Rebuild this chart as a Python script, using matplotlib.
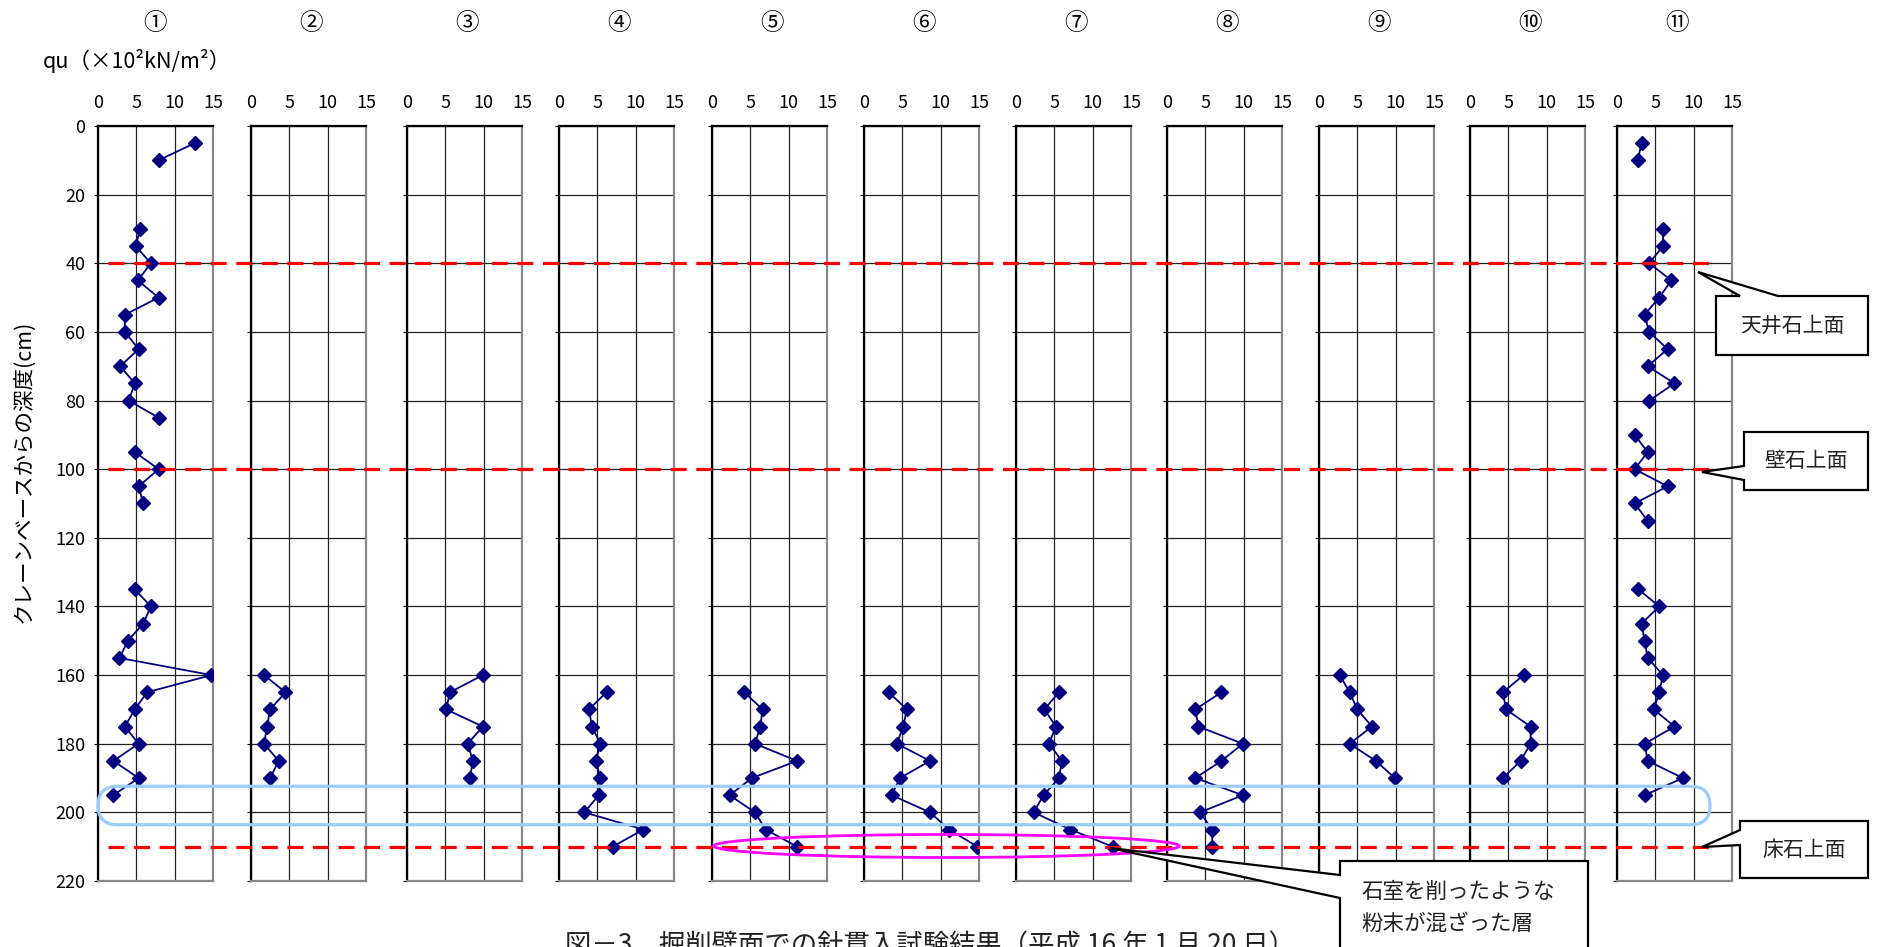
import numpy as np
import matplotlib.pyplot as plt
from matplotlib import transforms
from matplotlib.patches import FancyBboxPatch, Ellipse, Polygon
from matplotlib.lines import Line2D

plt.rcParams['font.family'] = ['Noto Sans CJK JP', 'DejaVu Sans']

nan = np.nan

# 測点ラベル
panel_labels = ['①', '②', '③', '④', '⑤', '⑥', '⑦', '⑧', '⑨', '⑩', '⑪']

# 深度 (cm)
depth_long = [5, 10, 15, 20, 25, 30, 35, 40, 45, 50, 55, 60, 65, 70, 75, 80, 85, 90, 95, 100,
              105, 110, 115, 120, 125, 130, 135, 140, 145, 150, 155, 160, 165, 170, 175, 180,
              185, 190, 195]
depth_short = [160, 165, 170, 175, 180, 185, 190]
depth_floor = [165, 170, 175, 180, 185, 190, 195, 200, 205, 210]

# qu (x10^2 kN/m^2)
qu_1 = [12.6, 7.9, nan, nan, nan, 5.5, 4.9, 6.9, 5.2, 7.9, 3.5, 3.5, 5.3, 2.9, 4.8, 4.0, 7.9, nan,
        4.8, 7.9, 5.3, 5.9, nan, nan, nan, nan, 4.8, 6.9, 5.9, 3.9, 2.8, 14.8, 6.4, 4.8, 3.5,
        5.3, 2.0, 5.3, 2.0]
qu_2 = [1.7, 4.5, 2.5, 2.1, 1.7, 3.6, 2.5]
qu_3 = [9.9, 5.6, 5.1, 9.9, 7.9, 8.6, 8.2]
qu_4 = [6.2, 3.9, 4.3, 5.4, 4.8, 5.4, 5.2, 3.3, 11.0, 7.0]
qu_5 = [4.2, 6.6, 6.3, 5.6, 11.1, 5.2, 2.3, 5.6, 7.0, 11.1]
qu_6 = [3.2, 5.6, 5.1, 4.3, 8.6, 4.7, 3.6, 8.6, 11.1, 14.8]
qu_7 = [5.6, 3.7, 5.2, 4.3, 6.0, 5.6, 3.6, 2.3, 7.1, 12.6]
qu_8 = [7.1, 3.7, 4.1, 9.9, 7.1, 3.7, 9.9, 4.3, 5.9, 5.9]
qu_9 = [2.7, 4.0, 5.0, 6.9, 4.0, 7.4, 9.9]
qu_10 = [7.0, 4.3, 4.7, 7.9, 7.9, 6.6, 4.3]
qu_11 = [3.2, 2.7, nan, nan, nan, 6.0, 6.0, 4.2, 7.1, 5.5, 3.6, 4.2, 6.6, 4.0, 7.5, 4.2, nan, 2.3,
         4.0, 2.3, 6.6, 2.3, 4.0, nan, nan, nan, 2.8, 5.5, 3.2, 3.6, 4.0, 6.0, 5.5, 4.8, 7.5,
         3.6, 4.0, 8.6, 3.6]

series = [(qu_1, depth_long), (qu_2, depth_short), (qu_3, depth_short), (qu_4, depth_floor),
          (qu_5, depth_floor), (qu_6, depth_floor), (qu_7, depth_floor), (qu_8, depth_floor),
          (qu_9, depth_short), (qu_10, depth_short), (qu_11, depth_long)]

# 基準面 (cm)
levels = [40, 100, 210]
level_names = ['天井石上面', '壁石上面', '床石上面']

# レイアウト (ピクセル)
W, H = 1881, 947
panel_left = [98, 251, 407, 559, 712, 864, 1016, 1167, 1319, 1470, 1617]
PW, TOP, PH = 115, 126, 755

fig = plt.figure(figsize=(W / 100, H / 100), dpi=100)
pix = transforms.Affine2D().scale(1 / W, -1 / H).translate(0, 1) + fig.transFigure

axes = []
for i, (qu, depth) in enumerate(series):
    left = panel_left[i]
    ax = fig.add_axes([left / W, 1 - (TOP + PH) / H, PW / W, PH / H])
    ax.plot(qu, depth, color='#000080', lw=1.3, marker='D', ms=7,
            mfc='#000080', mec='#000080', zorder=3)
    ax.set_xlim(0, 15)
    ax.set_ylim(220, 0)
    ax.xaxis.tick_top()
    ax.set_xticks([0, 5, 10, 15])
    ax.set_yticks(range(0, 221, 20))
    ax.grid(True, color='#222222', lw=0.9)
    ax.tick_params(axis='x', length=0, pad=10, labelsize=13)
    ax.tick_params(axis='y', length=3, direction='out', pad=6, labelsize=13)
    if i > 0:
        ax.tick_params(axis='y', labelleft=False)
    for side in ['left', 'top']:
        ax.spines[side].set_color('black')
        ax.spines[side].set_linewidth(1.6)
    for side in ['right', 'bottom']:
        ax.spines[side].set_color('#888888')
        ax.spines[side].set_linewidth(1.6)
    fig.text((left + PW / 2 + (3 if i > 0 else 0)) / W, 1 - 24 / H, panel_labels[i],
             ha='center', va='center', fontsize=17)
    axes.append(ax)

ax1 = axes[0]
fig.text(43 / W, 1 - 61 / H, 'qu（×10²kN/m²）', ha='left', va='center', fontsize=15.5)
fig.text(23 / W, 1 - 471 / H, 'クレーンベースからの深度(cm)', rotation=90, ha='center',
         va='center', fontsize=15.5)


def depth_px(d):
    # 深度 -> 画像ピクセル y
    return H - ax1.transData.transform((0, d))[1]


# 赤の破線
blend = transforms.blended_transform_factory(pix, ax1.transData)
for lv in levels:
    fig.add_artist(Line2D([108, 1712], [lv, lv], transform=blend, color='#ff0000', lw=2.3,
                          dashes=(5, 3), zorder=4))

# 水色の枠
y0, y1 = depth_px(192.4), depth_px(203.6)
fig.add_artist(FancyBboxPatch((98, y0), 1710 - 98, y1 - y0,
                              boxstyle='round,pad=0,rounding_size=%.1f' % ((y1 - y0) / 2),
                              transform=pix, fill=False, ec='#99ccff', lw=2.3, zorder=5))

# マゼンタの楕円
ex0 = (axes[4].transData.transform((0.25, 0))[0])
ex1 = (axes[7].transData.transform((1.6, 0))[0])
ey = depth_px(209.8)
fig.add_artist(Ellipse(((ex0 + ex1) / 2, ey), ex1 - ex0, 23, transform=pix, fill=False,
                       ec='#ff00ff', lw=2.0, zorder=5))

# 吹き出し
callouts = [
    [(1716, 296), (1740, 296), (1698, 272), (1778, 296), (1868, 296), (1868, 355), (1716, 355)],
    [(1744, 432), (1868, 432), (1868, 490), (1744, 490), (1744, 480), (1702, 472), (1744, 466)],
    [(1740, 821), (1868, 821), (1868, 878), (1740, 878), (1740, 845), (1702, 847), (1740, 830)],
    [(1340, 861), (1588, 861), (1588, 1000), (1340, 1000), (1340, 898), (1110, 848), (1340, 875)],
]
for pts in callouts:
    fig.add_artist(Polygon(pts, closed=True, transform=pix, fc='white', ec='black', lw=1.6,
                           zorder=6))

text_pos = [(1792, 326), (1806, 461), (1804, 850)]
for name, (tx, ty) in zip(level_names, text_pos):
    fig.text(tx / W, 1 - ty / H, name, ha='center', va='center', fontsize=15, color='#222222',
             zorder=7)
fig.text(1361 / W, 1 - 892 / H, '石室を削ったような', ha='left', va='center', fontsize=15.5,
         color='#222222', zorder=7)
fig.text(1361 / W, 1 - 924 / H, '粉末が混ざった層', ha='left', va='center', fontsize=15.5,
         color='#222222', zorder=7)

fig.text(565 / W, 1 - 946 / H, '図－3　掘削壁面での針貫入試験結果（平成 16 年 1 月 20 日）',
         ha='left', va='center', fontsize=19, color='#222222')

fig.savefig('out.png', dpi=100)
